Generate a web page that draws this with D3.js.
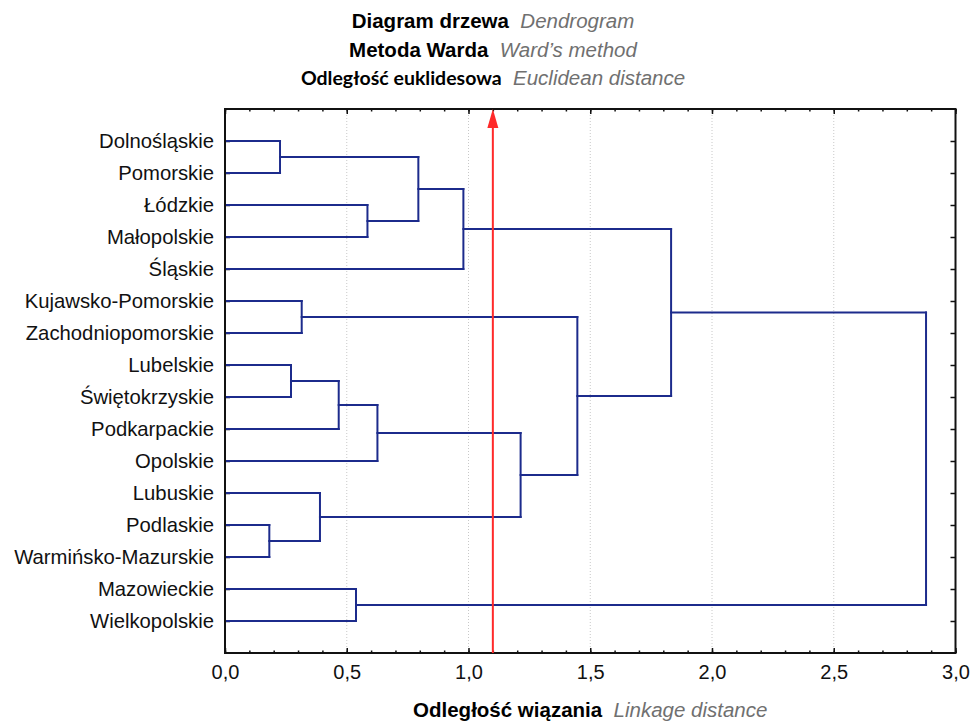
<!DOCTYPE html>
<html>
<head>
<meta charset="utf-8">
<script src="https://cdn.jsdelivr.net/npm/d3@7"></script>
<style>
  body { margin: 0; background: #fff; }
  svg { display: block; }
  text { font-family: "Liberation Sans", Arial, sans-serif; }
</style>
</head>
<body>
<script>
// ---------- DATA ----------
const leaves = [
  "Dolnośląskie", "Pomorskie", "Łódzkie", "Małopolskie", "Śląskie",
  "Kujawsko-Pomorskie", "Zachodniopomorskie", "Lubelskie", "Świętokrzyskie",
  "Podkarpackie", "Opolskie", "Lubuskie", "Podlaskie", "Warmińsko-Mazurskie",
  "Mazowieckie", "Wielkopolskie"
];
// linkage: [child A, child B, distance]; ids >= 16 are clusters in merge order
const mergeA = [12, 0, 7, 5, 11, 18, 14, 2, 21, 17, 25, 24, 19, 26, 29];
const mergeB = [13, 1, 8, 6, 16, 9, 15, 3, 10, 23, 4, 20, 27, 28, 22];
const mergeDist = [0.182, 0.226, 0.271, 0.315, 0.390, 0.467, 0.538, 0.585, 0.626, 0.794, 0.979, 1.214, 1.447, 1.832, 2.879];
const cutDistance = 1.10;
const xMajorTicks = [0, 0.5, 1.0, 1.5, 2.0, 2.5, 3.0];
const xMinorTicks = d3.range(0, 31).map(i => i / 10);
const titleLines = [
  ["Diagram drzewa", "Dendrogram"],
  ["Metoda Warda", "Ward’s method"],
  ["Odległość euklidesowa", "Euclidean distance"]
];
const axisTitle = ["Odległość wiązania", "Linkage distance"];

// ---------- LAYOUT ----------
const W = 974, H = 721;
const L = 225, R = 955.5, T = 109, B = 653;
const blue = "#1c2b8c";

const svg = d3.select("body").append("svg").attr("width", W).attr("height", H);

const x = d3.scaleLinear().domain([0, 3]).range([L, R]);
const y = d3.scalePoint().domain(leaves).range([T, B]).padding(1);

// grid
svg.append("g").selectAll("line").data(xMajorTicks.slice(1, -1)).join("line")
  .attr("x1", d => x(d)).attr("x2", d => x(d)).attr("y1", T).attr("y2", B)
  .attr("stroke", "#c8c8c8").attr("stroke-width", 1).attr("stroke-dasharray", "1,2");

// minor ticks
const fmt = d => d3.format(".1f")(d).replace(".", ",");
svg.append("g").attr("transform", `translate(0,${B})`)
  .call(d3.axisBottom(x).tickValues(xMinorTicks).tickSize(-2.5).tickFormat(""))
  .call(g => g.select(".domain").remove())
  .call(g => g.selectAll("line").attr("stroke", "#111").attr("stroke-width", 1.5));
svg.append("g").attr("transform", `translate(0,${T})`)
  .call(d3.axisTop(x).tickValues(xMinorTicks).tickSize(-2.5).tickFormat(""))
  .call(g => g.select(".domain").remove())
  .call(g => g.selectAll("line").attr("stroke", "#111").attr("stroke-width", 1.5));

// major axes
const gB = svg.append("g").attr("transform", `translate(0,${B})`)
  .call(d3.axisBottom(x).tickValues(xMajorTicks).tickSize(-5).tickPadding(12).tickFormat(fmt));
gB.selectAll("text").attr("font-size", 20).attr("fill", "#111");
const gT = svg.append("g").attr("transform", `translate(0,${T})`)
  .call(d3.axisTop(x).tickValues(xMajorTicks).tickSize(-5).tickFormat(""));
const gL = svg.append("g").attr("transform", `translate(${L},0)`)
  .call(d3.axisLeft(y).tickSize(-5).tickPadding(11));
gL.selectAll("text").attr("font-size", 20.3).attr("fill", "#111");
const gR = svg.append("g").attr("transform", `translate(${R},0)`)
  .call(d3.axisRight(y).tickSize(-5).tickFormat(""));
[gB, gT, gL, gR].forEach(g => {
  g.select(".domain").remove();
  g.selectAll("line").attr("stroke", "#111").attr("stroke-width", 1.5);
});

// ---------- DENDROGRAM ----------
const nodes = leaves.map(n => ({ y: y(n), h: 0 }));
const segs = [];
mergeA.forEach((a, i) => {
  const b = mergeB[i], h = mergeDist[i];
  const na = nodes[a], nb = nodes[b];
  segs.push({ x1: na.h, y1: na.y, x2: h, y2: na.y });
  segs.push({ x1: nb.h, y1: nb.y, x2: h, y2: nb.y });
  segs.push({ x1: h, y1: na.y, x2: h, y2: nb.y });
  nodes.push({ y: (na.y + nb.y) / 2, h: h });
});
svg.append("g").selectAll("line").data(segs).join("line")
  .attr("x1", d => x(d.x1)).attr("x2", d => x(d.x2))
  .attr("y1", d => d.y1).attr("y2", d => d.y2)
  .attr("stroke", blue).attr("stroke-width", 2).attr("stroke-linecap", "square");

// frame
svg.append("rect").attr("x", L).attr("y", T).attr("width", R - L).attr("height", B - T)
  .attr("fill", "none").attr("stroke", "#111").attr("stroke-width", 2);

// cut line with arrow
const cx = x(cutDistance);
svg.append("line").attr("x1", cx).attr("x2", cx).attr("y1", B).attr("y2", T + 15)
  .attr("stroke", "#ff2a2a").attr("stroke-width", 2);
svg.append("path")
  .attr("d", `M${cx},${T} L${cx - 5.5},${T + 19} L${cx + 5.5},${T + 19} Z`)
  .attr("fill", "#ff2a2a");

// titles
const titleY = [28, 57, 85];
titleLines.forEach((ln, i) => {
  const t = svg.append("text").attr("x", 493).attr("y", titleY[i])
    .attr("text-anchor", "middle").attr("font-size", 20.5);
  t.append("tspan").text(ln[0]).attr("font-weight", "bold").attr("fill", "#000")
    .style("font-family", i === 2 ? "Lato, 'Liberation Sans', sans-serif" : null)
    .attr("font-size", i === 2 ? 19.5 : null);
  t.append("tspan").text("\u00a0\u00a0" + ln[1]).attr("font-style", "italic").attr("fill", "#707070");
});
const at = svg.append("text").attr("x", (L + R) / 2).attr("y", 717)
  .attr("text-anchor", "middle").attr("font-size", 20.5);
at.append("tspan").text(axisTitle[0]).attr("font-weight", "bold").attr("fill", "#000");
at.append("tspan").text("\u00a0\u00a0" + axisTitle[1]).attr("font-style", "italic").attr("fill", "#707070");
</script>
</body>
</html>
